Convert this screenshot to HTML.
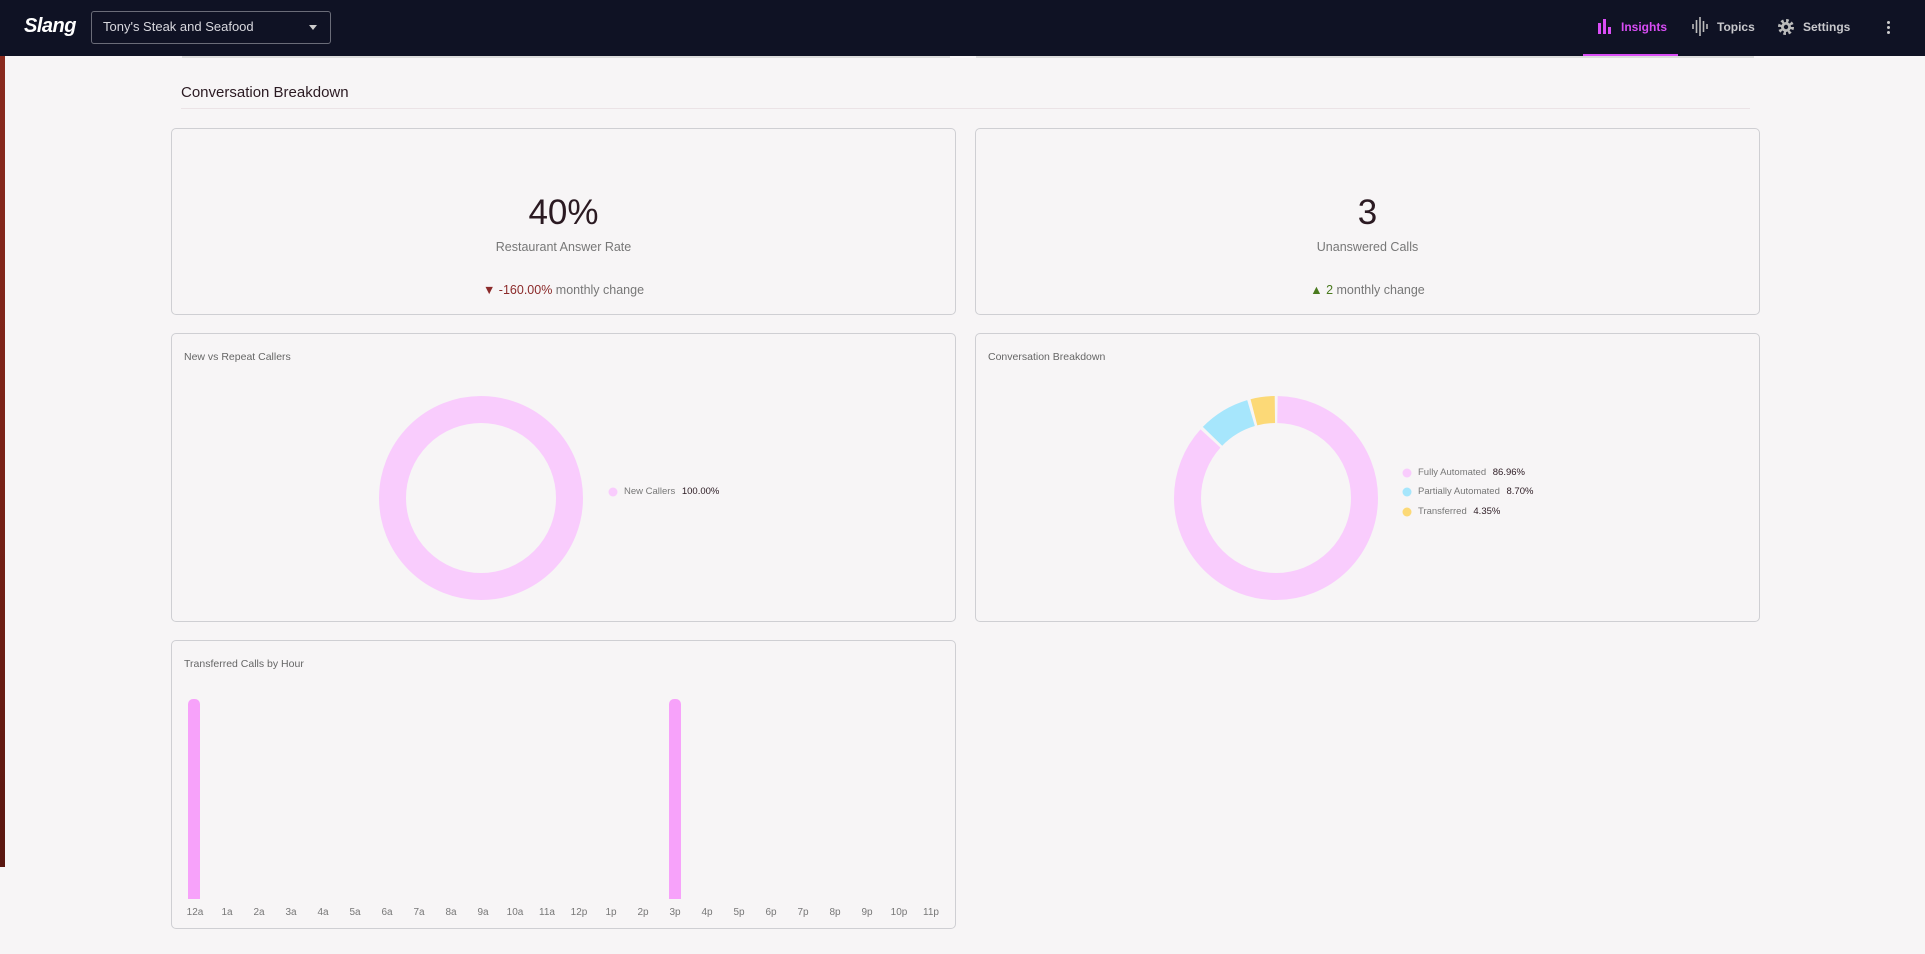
<!DOCTYPE html>
<html><head><meta charset="utf-8"><style>
*{margin:0;padding:0;box-sizing:border-box}
body{width:1925px;height:954px;background:#f7f5f6;font-family:"Liberation Sans",sans-serif;position:relative;overflow:hidden}
.abs{position:absolute}
.nav{left:0;top:0;width:1925px;height:56px;background:#0f1224}
.card{position:absolute;background:#f7f5f6;border:1px solid #cfcfd3;border-radius:5px}
.t{position:absolute;white-space:nowrap;z-index:3}
.lab{position:absolute;top:907px;font-size:10px;color:#777;width:30px;text-align:center}
</style></head><body>
<div class="abs" style="left:0;top:56px;width:5px;height:811px;background:linear-gradient(#8a2a1e,#7a2217 50%,#5a1710)"></div>
<div class="abs nav"></div>
<div class="t" style="left:24px;top:15px;font-size:20px;font-weight:bold;font-style:italic;color:#fff;letter-spacing:-0.5px">Slang</div>
<div class="abs" style="left:91px;top:11px;width:240px;height:33px;border:1px solid #6a6c78;border-radius:3px"></div>
<div class="t" style="left:103px;top:19px;font-size:13px;color:#d8d8de">Tony's Steak and Seafood</div>
<div class="abs" style="left:309px;top:25px;width:0;height:0;border-left:4px solid transparent;border-right:4px solid transparent;border-top:5px solid #ccc"></div>
<svg class="abs" style="left:1598px;top:19px" width="14" height="15"><rect x="0" y="4" width="3" height="11" fill="#d94df5"/><rect x="5" y="0" width="3" height="15" fill="#d94df5"/><rect x="10" y="8" width="3" height="7" fill="#d94df5"/></svg>
<div class="t" style="left:1621px;top:20px;font-size:12px;font-weight:bold;color:#d94df5">Insights</div>
<div class="abs" style="left:1583px;top:54px;width:95px;height:2px;background:#d94df5"></div>
<svg class="abs" style="left:1692px;top:17px" width="16" height="19" stroke="#bbb" stroke-width="1.6"><line x1="1" y1="7" x2="1" y2="12"/><line x1="4.5" y1="3" x2="4.5" y2="16"/><line x1="8" y1="0" x2="8" y2="19"/><line x1="11.5" y1="4" x2="11.5" y2="15"/><line x1="15" y1="7" x2="15" y2="12"/></svg>
<div class="t" style="left:1717px;top:20px;font-size:12px;font-weight:bold;color:#c8c8cc">Topics</div>
<svg class="abs" style="left:1778px;top:19px" width="16" height="16"><circle cx="8" cy="8" r="6" fill="none" stroke="#bbb" stroke-width="4" stroke-dasharray="2.4 2.3"/><circle cx="8" cy="8" r="5" fill="#bbb"/><circle cx="8" cy="8" r="2.2" fill="#0f1224"/></svg>
<div class="t" style="left:1803px;top:20px;font-size:12px;font-weight:bold;color:#c8c8cc">Settings</div>
<div class="abs" style="left:1887px;top:21px;width:3px;height:3px;background:#ccc;border-radius:2px;box-shadow:0 5px 0 #ccc,0 10px 0 #ccc"></div>

<div class="abs" style="left:182px;top:56px;width:768px;height:2px;background:#ddd"></div>
<div class="abs" style="left:976px;top:56px;width:778px;height:2px;background:#ddd"></div>

<div class="t" style="left:181px;top:84px;font-size:15px;color:#2b1a22">Conversation Breakdown</div>
<div class="abs" style="left:181px;top:108px;width:1569px;height:1px;background:#ebe3e6"></div>

<div class="card" style="left:171px;top:128px;width:785px;height:187px"></div>
<div class="t" style="left:171px;width:785px;text-align:center;top:193px;font-size:35px;color:#2b1a22">40%</div>
<div class="t" style="left:171px;width:785px;text-align:center;top:240px;font-size:12.5px;color:#777">Restaurant Answer Rate</div>
<div class="t" style="left:171px;width:785px;text-align:center;top:283px;font-size:12.5px;color:#777"><span style="color:#8b2a2a">▼ -160.00%</span> monthly change</div>

<div class="card" style="left:975px;top:128px;width:785px;height:187px"></div>
<div class="t" style="left:975px;width:785px;text-align:center;top:193px;font-size:35px;color:#2b1a22">3</div>
<div class="t" style="left:975px;width:785px;text-align:center;top:240px;font-size:12.5px;color:#777">Unanswered Calls</div>
<div class="t" style="left:975px;width:785px;text-align:center;top:283px;font-size:12.5px;color:#777"><span style="color:#4a7a1e">▲ 2</span> monthly change</div>

<div class="card" style="left:171px;top:333px;width:785px;height:289px"></div>
<div class="t" style="left:184px;top:351px;font-size:10.5px;color:#666">New vs Repeat Callers</div>
<div class="card" style="left:975px;top:333px;width:785px;height:289px"></div>
<div class="t" style="left:988px;top:351px;font-size:10.5px;color:#666">Conversation Breakdown</div>
<div class="card" style="left:171px;top:640px;width:785px;height:289px"></div>
<div class="t" style="left:184px;top:658px;font-size:10.5px;color:#666">Transferred Calls by Hour</div>

<svg class="abs" style="left:0;top:0;z-index:2" width="1925" height="954">
<circle cx="481" cy="498" r="88.5" fill="none" stroke="#f9ccfd" stroke-width="27"/>
<circle cx="613" cy="492" r="4.5" fill="#f9ccfd"/>
<g transform="rotate(-90 1276 498)">
<circle cx="1276" cy="498" r="88.5" fill="none" stroke="#f9ccfd" stroke-width="27" stroke-dasharray="480.6 600" stroke-dashoffset="-1.5"/>
<circle cx="1276" cy="498" r="88.5" fill="none" stroke="#a6e6fc" stroke-width="27" stroke-dasharray="45.4 600" stroke-dashoffset="-485.1"/>
<circle cx="1276" cy="498" r="88.5" fill="none" stroke="#fcd977" stroke-width="27" stroke-dasharray="21.2 600" stroke-dashoffset="-533.5"/>
</g>
<circle cx="1407" cy="473" r="4.5" fill="#f9ccfd"/>
<circle cx="1407" cy="492" r="4.5" fill="#a6e6fc"/>
<circle cx="1407" cy="512" r="4.5" fill="#fcd977"/>
<rect x="188" y="699" width="12" height="200" rx="5" fill="#f7a2fa"/>
<rect x="188" y="705" width="12" height="194" fill="#f7a2fa"/>
<rect x="669" y="699" width="12" height="200" rx="5" fill="#f7a2fa"/>
<rect x="669" y="705" width="12" height="194" fill="#f7a2fa"/>
</svg>
<div class="t" style="left:624px;top:486px;font-size:9.5px;color:#777">New Callers <span style="color:#2b1a22;margin-left:4px">100.00%</span></div>
<div class="t" style="left:1418px;top:467px;font-size:9.5px;color:#777">Fully Automated <span style="color:#2b1a22;margin-left:4px">86.96%</span></div>
<div class="t" style="left:1418px;top:486px;font-size:9.5px;color:#777">Partially Automated <span style="color:#2b1a22;margin-left:4px">8.70%</span></div>
<div class="t" style="left:1418px;top:506px;font-size:9.5px;color:#777">Transferred <span style="color:#2b1a22;margin-left:4px">4.35%</span></div>

<div class="lab" style="left:180px">12a</div><div class="lab" style="left:212px">1a</div><div class="lab" style="left:244px">2a</div><div class="lab" style="left:276px">3a</div><div class="lab" style="left:308px">4a</div><div class="lab" style="left:340px">5a</div><div class="lab" style="left:372px">6a</div><div class="lab" style="left:404px">7a</div><div class="lab" style="left:436px">8a</div><div class="lab" style="left:468px">9a</div><div class="lab" style="left:500px">10a</div><div class="lab" style="left:532px">11a</div><div class="lab" style="left:564px">12p</div><div class="lab" style="left:596px">1p</div><div class="lab" style="left:628px">2p</div><div class="lab" style="left:660px">3p</div><div class="lab" style="left:692px">4p</div><div class="lab" style="left:724px">5p</div><div class="lab" style="left:756px">6p</div><div class="lab" style="left:788px">7p</div><div class="lab" style="left:820px">8p</div><div class="lab" style="left:852px">9p</div><div class="lab" style="left:884px">10p</div><div class="lab" style="left:916px">11p</div>
</body></html>
